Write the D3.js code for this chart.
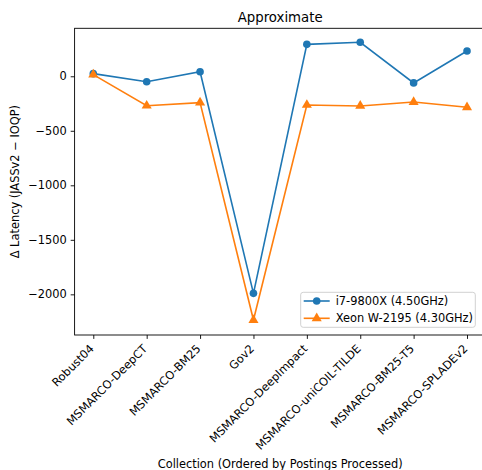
<!DOCTYPE html>
<html>
<head>
<meta charset="utf-8">
<script src="https://cdn.jsdelivr.net/npm/d3@7"></script>
<style>
  body { margin: 0; background: #fff; }
  text { font-family: "DejaVu Sans", sans-serif; fill: #000; }
</style>
</head>
<body>
<div id="chart"></div>
<script>
const collections = ["Robust04", "MSMARCO-DeepCT", "MSMARCO-BM25", "Gov2", "MSMARCO-DeepImpact", "MSMARCO-uniCOIL-TILDE", "MSMARCO-BM25-T5", "MSMARCO-SPLADEv2"];
const i7Values = [24, -50, 42, -1991, 293, 312, -61, 232];
const xeonValues = [15, -270, -242, -2236, -263, -272, -236, -284];
const yTicks = [0, -500, -1000, -1500, -2000];
const seriesNames = ["i7-9800X (4.50GHz)", "Xeon W-2195 (4.30GHz)"];

const w = 482;
const h = 470;
const mLeft = 74.6, mRight = 485.7, mTop = 28.3, mBottom = 335;
const fs = 11.4;

const svg = d3.select("#chart").append("svg").attr("width", w).attr("height", h);

const x = d3.scaleLinear().domain([-0.35, 7.35]).range([mLeft, mRight]);
const y = d3.scaleLinear().domain([-2373, 440]).range([mBottom, mTop]);

const series = [
  { name: seriesNames[0], values: i7Values, color: "#1f77b4", marker: "circle" },
  { name: seriesNames[1], values: xeonValues, color: "#ff7f0e", marker: "triangle" }
];

const line = d3.line().x((d, i) => x(i)).y(d => y(d));
const tri = d3.symbol().type(d3.symbolTriangle).size(44);

series.forEach(s => {
  svg.append("path")
    .datum(s.values)
    .attr("d", line)
    .attr("fill", "none")
    .attr("stroke", s.color)
    .attr("stroke-width", 1.6);
  if (s.marker === "circle") {
    svg.selectAll(null).data(s.values).enter().append("circle")
      .attr("cx", (d, i) => x(i)).attr("cy", d => y(d)).attr("r", 3.8)
      .attr("fill", s.color);
  } else {
    svg.selectAll(null).data(s.values).enter().append("path")
      .attr("d", tri)
      .attr("transform", (d, i) => `translate(${x(i)},${y(d)})`)
      .attr("fill", s.color);
  }
});

// spines
svg.append("rect")
  .attr("x", mLeft).attr("y", mTop)
  .attr("width", mRight - mLeft).attr("height", mBottom - mTop)
  .attr("fill", "none").attr("stroke", "#000").attr("stroke-width", 0.9);

// y axis
const yAxis = svg.append("g").attr("transform", `translate(${mLeft},0)`)
  .call(d3.axisLeft(y).tickValues(yTicks).tickSize(3.9).tickPadding(3.9)
    .tickFormat(d => d < 0 ? "\u2212" + Math.abs(d) : d));
yAxis.select(".domain").remove();
yAxis.selectAll("line").attr("stroke-width", 0.9);
yAxis.selectAll("text").style("font-size", fs + "px").style("font-family", "DejaVu Sans");

// x axis
const xAxis = svg.append("g").attr("transform", `translate(0,${mBottom})`)
  .call(d3.axisBottom(x).tickValues(d3.range(collections.length)).tickSize(3.9).tickFormat(""));
xAxis.select(".domain").remove();
xAxis.selectAll("line").attr("stroke-width", 0.9);

svg.selectAll(".xlab").data(collections).enter().append("text")
  .attr("class", "xlab")
  .attr("transform", (d, i) => `translate(${x(i) - 1.5},${mBottom + 11.5}) rotate(-45)`)
  .attr("text-anchor", "end")
  .attr("dy", "0.35em")
  .style("font-size", fs + "px")
  .text(d => d);

// title and labels
svg.append("text").attr("x", (mLeft + mRight) / 2).attr("y", 21.5)
  .attr("text-anchor", "middle").style("font-size", "13.3px").text("Approximate");

svg.append("text").attr("x", (mLeft + mRight) / 2).attr("y", 467.5)
  .attr("text-anchor", "middle").style("font-size", fs + "px")
  .text("Collection (Ordered by Postings Processed)");

svg.append("text")
  .attr("transform", `translate(19,${(mTop + mBottom) / 2}) rotate(-90)`)
  .attr("text-anchor", "middle").style("font-size", fs + "px")
  .text("\u0394 Latency (JASSv2 \u2212 IOQP)");

// legend
const lg = svg.append("g").attr("transform", "translate(300.7,292.3)");
lg.append("rect").attr("width", 174.6).attr("height", 35).attr("rx", 2.5)
  .attr("fill", "#fff").attr("fill-opacity", 0.8)
  .attr("stroke", "#ccc").attr("stroke-width", 0.9);
series.forEach((s, i) => {
  const cy = 8.7 + i * 17.3;
  lg.append("line").attr("x1", 3).attr("x2", 29).attr("y1", cy).attr("y2", cy)
    .attr("stroke", s.color).attr("stroke-width", 1.6);
  if (s.marker === "circle") {
    lg.append("circle").attr("cx", 16).attr("cy", cy).attr("r", 3.8).attr("fill", s.color);
  } else {
    lg.append("path").attr("d", tri).attr("transform", `translate(16,${cy})`).attr("fill", s.color);
  }
  lg.append("text").attr("x", 35).attr("y", cy).attr("dy", "0.35em")
    .style("font-size", fs + "px").text(s.name);
});
</script>
</body>
</html>
